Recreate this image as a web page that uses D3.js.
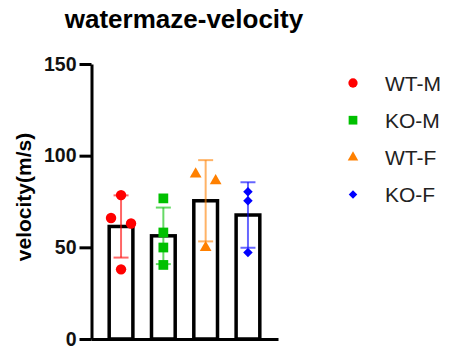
<!DOCTYPE html>
<html>
<head>
<meta charset="utf-8">
<script src="https://cdn.jsdelivr.net/npm/d3@7"></script>
<style>
  body { margin: 0; background: #fff; }
  text { font-family: Arial, "Liberation Sans", sans-serif; }
</style>
</head>
<body>
<div id="chart"></div>
<script>
// data
const groups = ["WT-M", "KO-M", "WT-F", "KO-F"];
const wtM = [78.5, 66, 63, 38];
const koM = [76.7, 58.1, 49.9, 40.4];
const wtF = [90, 86.3, 49.9];
const koF = [80.3, 75.4, 47.2];
const yTicks = [0, 50, 100, 150];

const values = [wtM, koM, wtF, koF];
const colors = ["#ff0000", "#00c000", "#ff8000", "#0000ff"];
// little sideways shift of the dots (px), as in the original
const jitter = [[0, -10, 10, 0], [0, 0, 0, 0], [-10, 10, 0], [0, 0, 0]];

const width = 452, height = 348;

const svg = d3.select("#chart")
  .append("svg")
    .attr("width", width)
    .attr("height", height);

// scales
const x = d3.scaleBand()
  .domain(groups)
  .range([91, 278])
  .paddingInner(0.44)
  .paddingOuter(0.43);

const y = d3.scaleLinear()
  .domain([0, 150])
  .range([339, 64]);

// summary stats per group
const stats = groups.map((g, i) => {
  const v = values[i];
  return {group: g, mean: d3.mean(v), sd: d3.deviation(v), color: colors[i]};
});

// symbols
const diamond = {
  draw(context, size) {
    const r = Math.sqrt(size) / 2 * Math.SQRT2;
    context.moveTo(0, -r);
    context.lineTo(r, 0);
    context.lineTo(0, r);
    context.lineTo(-r, 0);
    context.closePath();
  }
};
const shapes = [d3.symbolCircle, d3.symbolSquare, d3.symbolTriangle, diamond];
const sizes = [85, 95, 60, 45];

// title
svg.append("text")
  .attr("x", 184)
  .attr("y", 28)
  .attr("text-anchor", "middle")
  .style("font-size", "26px")
  .style("font-weight", "bold")
  .text("watermaze-velocity");

// y label
svg.append("text")
  .attr("transform", "translate(31,197) rotate(-90)")
  .attr("text-anchor", "middle")
  .style("font-size", "21px")
  .style("font-weight", "bold")
  .text("velocity(m/s)");

// bars
svg.append("g")
  .selectAll("rect")
  .data(stats)
  .join("rect")
    .attr("x", d => x(d.group))
    .attr("y", d => y(d.mean))
    .attr("width", x.bandwidth())
    .attr("height", d => y(0) - y(d.mean))
    .attr("fill", "white")
    .attr("stroke", "black")
    .attr("stroke-width", 3.5);

// axes
const yAxis = svg.append("g")
  .attr("transform", "translate(91.5,0)")
  .call(d3.axisLeft(y).tickValues(yTicks).tickSize(12).tickSizeOuter(0).tickPadding(3));
yAxis.selectAll("path, line").attr("stroke", "black").attr("stroke-width", 3);
yAxis.selectAll("text")
  .style("font-size", "19.5px")
  .style("font-weight", "bold")
  .style("font-family", "Arial, 'Liberation Sans', sans-serif")
  .attr("fill", "#111");

const xAxis = svg.append("g")
  .attr("transform", `translate(0,${y(0)})`)
  .call(d3.axisBottom(x).tickSize(0).tickSizeOuter(0).tickFormat(""));
xAxis.select(".domain").attr("stroke", "black").attr("stroke-width", 3);

// error bars (mean +/- SD)
const err = svg.append("g")
  .selectAll("g")
  .data(stats)
  .join("g")
    .attr("stroke", d => d.color)
    .attr("stroke-opacity", 0.6)
    .attr("stroke-width", 2);
const cx = d => x(d.group) + x.bandwidth() / 2;
err.append("line")
  .attr("x1", cx).attr("x2", cx)
  .attr("y1", d => y(d.mean + d.sd))
  .attr("y2", d => y(d.mean - d.sd));
err.append("line")
  .attr("x1", d => cx(d) - 7.5).attr("x2", d => cx(d) + 7.5)
  .attr("y1", d => y(d.mean + d.sd))
  .attr("y2", d => y(d.mean + d.sd));
err.append("line")
  .attr("x1", d => cx(d) - 7.5).attr("x2", d => cx(d) + 7.5)
  .attr("y1", d => y(d.mean - d.sd))
  .attr("y2", d => y(d.mean - d.sd));

// points
groups.forEach((g, i) => {
  svg.append("g")
    .selectAll("path")
    .data(values[i])
    .join("path")
      .attr("d", d3.symbol(shapes[i], sizes[i]))
      .attr("transform", (d, j) =>
        `translate(${x(g) + x.bandwidth() / 2 + jitter[i][j]},${y(d)})`)
      .attr("fill", colors[i]);
});

// legend
const legend = svg.append("g")
  .selectAll("g")
  .data(groups)
  .join("g")
    .attr("transform", (d, i) => `translate(353,${83 + i * 37.2})`);
legend.append("path")
  .attr("d", (d, i) => d3.symbol(shapes[i], sizes[i] * 0.8)())
  .attr("fill", (d, i) => colors[i]);
legend.append("text")
  .attr("x", 32)
  .attr("y", 7.5)
  .style("font-size", "21px")
  .attr("fill", "#222")
  .text(d => d);
</script>
</body>
</html>
